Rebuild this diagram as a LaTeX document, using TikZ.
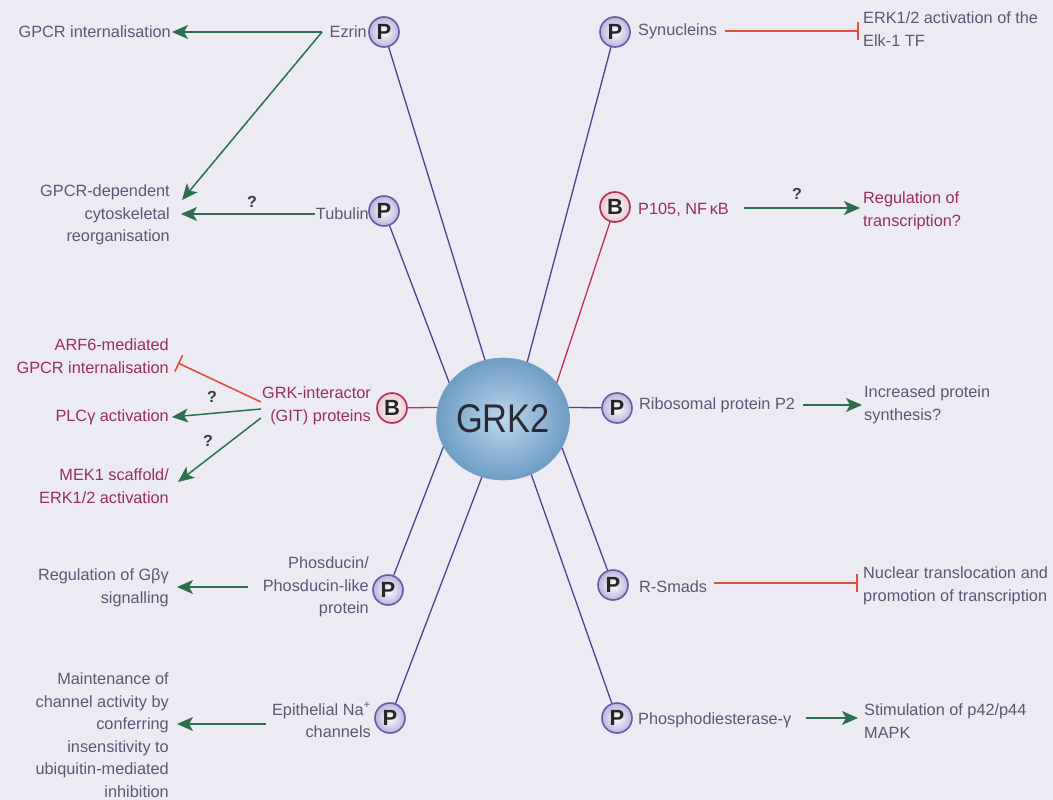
\documentclass[tikz,border=0pt]{standalone}
\usepackage{fontspec}
\setmainfont{Liberation Sans}
\usetikzlibrary{arrows.meta,shapes.geometric}
\definecolor{bgc}{HTML}{ECEBF3}
\definecolor{txtg}{HTML}{5E5674}
\definecolor{txtr}{HTML}{9A2E5E}
\definecolor{linb}{HTML}{48468E}
\definecolor{linr}{HTML}{C0304F}
\definecolor{actg}{HTML}{2F6F50}
\definecolor{inhr}{HTML}{E0503A}
\definecolor{pbord}{HTML}{6A5AA5}
\definecolor{pfill}{HTML}{BDB3DC}
\definecolor{bbord}{HTML}{B0305A}
\definecolor{bfill}{HTML}{E9C9D3}
\definecolor{qc}{HTML}{3A3545}
\definecolor{grkin}{HTML}{BCD7EC}
\definecolor{grkout}{HTML}{6D9CC4}
\definecolor{grkbd}{HTML}{7FA6C6}
\definecolor{grktx}{HTML}{2A2A35}
\tikzset{
  lbl/.style={font=\fontsize{16.3}{22.5}\selectfont, text=txtg, inner sep=1pt},
  lblr/.style={lbl, text=txtr},
  pnode/.style={circle, draw=pbord, line width=1.6pt, inner color=white, outer color=pfill,
    minimum size=30pt, inner sep=0pt, font=\bfseries\fontsize{22}{22}\selectfont, text=black!85},
  bnode/.style={pnode, draw=bbord, outer color=bfill},
  spoke/.style={draw=linb, line width=1.3pt},
  spoker/.style={draw=linr, line width=1.3pt},
  act/.style={draw=actg, line width=1.5pt, -{Stealth[length=16pt,width=14pt,inset=4pt]}},
  inh/.style={draw=inhr, line width=1.6pt, -{Bar[width=18pt]}},
  qm/.style={font=\bfseries\fontsize{16}{16}\selectfont, text=qc, inner sep=0pt}
}
\begin{document}
\begin{tikzpicture}[x=1pt,y=-1pt]
\fill[bgc] (0,0) rectangle (1053,800);
\useasboundingbox (0,0) rectangle (1053,800);

% central node
\node[ellipse, minimum width=133pt, minimum height=122pt, inner sep=0pt,
  inner color=grkin, outer color=grkout, draw=grkbd, line width=0.6pt] (grk) at (503,419) {};
\node[font=\fontsize{40}{40}\selectfont, text=grktx, inner sep=0pt] (grkT) at (grk.center) {\scalebox{0.86}[1]{GRK2}};

% P / B nodes
\node[pnode] (pEz) at (384,32) {P};
\node[pnode] (pTub) at (384,211) {P};
\node[bnode] (bGIT) at (392,408) {B};
\node[pnode] (pPhos) at (388,590) {P};
\node[pnode] (pEpi) at (390,718) {P};
\node[pnode] (pSyn) at (615,32) {P};
\node[bnode] (bP105) at (615,207) {B};
\node[pnode] (pRib) at (617,408) {P};
\node[pnode] (pRS) at (613,585) {P};
\node[pnode] (pPDE) at (617,718) {P};

% spokes
\draw[spoke] (pEz) -- (grk.107);
\draw[spoke] (pTub) -- (grk.146);
\draw[spoker] (bGIT) -- (grk.170);
\draw[spoke] (pPhos) -- (grk.205);
\draw[spoke] (pEpi) -- (grk.250);
\draw[spoke] (pSyn) -- (grk.67);
\draw[spoker] (bP105) -- (grk.34);
\draw[spoke] (pRib) -- (grk.10);
\draw[spoke] (pRS) -- (grk.334);
\draw[spoke] (pPDE) -- (grk.297);

% left labels
\node[lbl, anchor=east] (tEz) at (368,32) {Ezrin};
\node[lbl, anchor=east] (tGint) at (172,32) {GPCR internalisation};
\node[lbl, anchor=east, align=right] (tCyto) at (171,215) {GPCR-dependent\\cytoskeletal\\reorganisation};
\node[lbl, anchor=east] (tTub) at (370,214) {Tubulin};
\node[lblr, anchor=east, align=right] (tARF) at (170,356) {ARF6-mediated\\GPCR internalisation};
\node[lblr, anchor=east, align=right] (tGIT) at (372,406) {GRK-interactor\\(GIT) proteins};
\node[lblr, anchor=east] (tPLC) at (170,417) {PLCγ activation};
\node[lblr, anchor=east, align=right] (tMEK) at (170,486) {MEK1 scaffold/\\ERK1/2 activation};
\node[lbl, anchor=east, align=right] (tGby) at (170,588) {Regulation of Gβγ\\signalling};
\node[lbl, anchor=east, align=right] (tPhos) at (370,587) {Phosducin/\\Phosducin-like\\protein};
\node[lbl, anchor=east, align=right] (tEpi) at (372,720) {Epithelial Na\textsuperscript{+}\\channels};
\node[lbl, anchor=east, align=right] (tMain) at (170,735) {Maintenance of\\channel activity by\\conferring\\insensitivity to\\ubiquitin-mediated\\inhibition};

% right labels
\node[lbl, anchor=west] (tSyn) at (637,31) {Synucleins};
\node[lbl, anchor=west, align=left] (tERK) at (862,29) {ERK1/2 activation of the\\Elk-1 TF};
\node[lblr, anchor=west] (tP105) at (637,210) {P105, NF\,κB};
\node[lblr, anchor=west, align=left] (tRegT) at (862,211) {Regulation of\\transcription?};
\node[lbl, anchor=west] (tRib) at (638,405) {Ribosomal protein P2};
\node[lbl, anchor=west, align=left] (tInc) at (863,405) {Increased protein\\synthesis?};
\node[lbl, anchor=west] (tRS) at (638,587) {R-Smads};
\node[lbl, anchor=west, align=left] (tNuc) at (862,586) {Nuclear translocation and\\promotion of transcription};
\node[lbl, anchor=west] (tPDE) at (637,720) {Phosphodiesterase-γ};
\node[lbl, anchor=west, align=left] (tStim) at (863,721) {Stimulation of p42/p44\\MAPK};

% effect connectors
\coordinate (ezs) at (322,32);
\draw[act] (ezs) -- (tGint.east);
\draw[act] (ezs) -- ([xshift=11pt,yshift=15pt]tCyto.east);
\draw[act, shorten >=10pt] (tTub.west) -- (tCyto.east |- tTub.west);
\node[qm] (q1) at (252,202) {?};

\draw[inh] ([yshift=4pt]tGIT.west) -- ([xshift=8pt,yshift=-7pt]tARF.east);
\draw[act] ([yshift=-3pt]tGIT.west) -- ([xshift=2pt]tPLC.east);
\node[qm] (q3) at (212,397) {?};
\draw[act] ([yshift=-12pt]tGIT.west) -- ([xshift=8pt,yshift=4pt]tMEK.east);
\node[qm] (q4) at (208,441) {?};

\draw[act, shorten <=14pt, shorten >=7pt] (tPhos.west) -- (tGby.east |- tPhos.west);
\draw[act, shorten <=5pt, shorten >=7pt] ([yshift=-4pt]tEpi.west) -- ([yshift=-4pt]tMain.east |- tEpi.west);

\draw[inh, shorten <=7pt, shorten >=3pt] (tSyn.east) -- (tERK.west |- tSyn.east);
\draw[act, shorten <=14pt, shorten >=2pt] ([yshift=2pt]tP105.east) -- ([yshift=2pt]tRegT.west |- tP105.east);
\node[qm] (q2) at (797,194) {?};
\draw[act, shorten <=7pt, shorten >=1pt] (tRib.east) -- (tInc.west);
\draw[inh, shorten <=6pt, shorten >=4pt] ([yshift=4pt]tRS.east) -- ([yshift=4pt]tNuc.west |- tRS.east);
\draw[act, shorten <=13pt, shorten >=5pt] ([yshift=2pt]tPDE.east) -- ([yshift=2pt]tStim.west |- tPDE.east);
\end{tikzpicture}
\end{document}
